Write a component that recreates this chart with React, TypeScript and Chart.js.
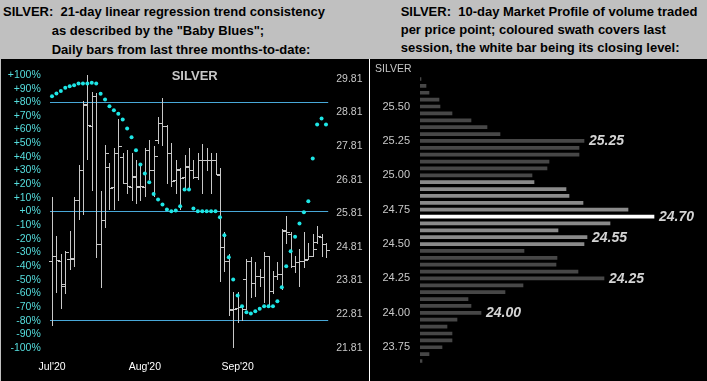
import React, { useEffect, useRef } from "react";
import { Chart, registerables } from "chart.js";
Chart.register(...registerables);

const FONT = '"Liberation Sans", Arial, Helvetica, sans-serif';

// ---------- Left panel data ----------
const monthLabels = ["Jul'20", "Aug'20", "Sep'20"];
const monthIndex = [0, 21, 42];

const opens = [
  24.40, 24.55, 24.40, 23.70, 24.45, 24.45, 26.20, 27.10, 29.05, 28.40,
  29.30, 24.90, 25.60, 27.20, 26.60, 27.60, 27.50, 26.70, 26.60, 26.90,
  26.60, 26.60, 27.70, 27.10, 28.00, 28.50, 28.40, 27.60, 26.80, 27.10,
  26.90, 27.20, 27.10, 26.90, 27.40, 27.40, 27.40, 27.40, 26.95, 24.80,
  24.40, 22.95, 23.00, 23.02, 23.85, 24.40, 23.75, 23.95, 23.90, 24.55,
  23.50, 23.95, 24.00, 25.30, 25.20, 24.25, 24.35, 24.40, 24.45, 24.55,
  24.95, 25.10, 24.90,
];
const highs = [
  26.29, 25.14, 24.60, 24.69, 25.29, 26.29, 27.26, 29.14, 29.93, 29.43,
  29.39, 26.47, 27.85, 27.31, 27.76, 28.62, 27.61, 27.71, 27.61, 27.41,
  27.21, 27.75, 28.00, 27.82, 28.68, 29.24, 28.45, 27.90, 27.41, 27.16,
  27.56, 27.76, 27.41, 27.61, 27.88, 27.76, 27.61, 27.61, 27.16, 25.25,
  24.60, 23.46, 23.46, 23.06, 24.45, 24.50, 24.35, 24.15, 24.65, 24.55,
  24.10, 24.35, 25.34, 25.73, 25.24, 24.54, 24.74, 25.24, 24.94, 25.19,
  25.43, 25.19, 24.94,
];
const lows = [
  22.47, 23.46, 22.99, 23.43, 24.15, 24.25, 25.65, 25.80, 27.44, 26.50,
  24.50, 23.61, 25.39, 25.93, 25.93, 26.22, 26.72, 26.42, 26.22, 26.13,
  26.22, 26.32, 26.82, 26.32, 27.90, 27.85, 26.72, 26.62, 26.42, 25.93,
  26.57, 26.52, 26.87, 26.82, 26.42, 27.11, 26.42, 26.97, 23.80, 24.09,
  22.77, 21.83, 22.57, 22.62, 22.97, 23.31, 23.36, 23.66, 23.16, 23.11,
  23.45, 23.85, 23.56, 24.94, 24.20, 24.05, 23.66, 24.20, 24.45, 24.54,
  24.94, 24.54, 24.50,
];
const closes = [
  24.54, 24.43, 23.64, 24.66, 24.48, 26.20, 27.11, 29.06, 28.43, 29.29,
  24.89, 25.60, 27.61, 26.57, 27.61, 27.80, 26.72, 26.62, 26.92, 26.62,
  26.62, 27.71, 27.11, 27.51, 28.50, 28.40, 27.61, 26.77, 27.13, 26.87,
  27.21, 27.11, 26.90, 27.41, 27.41, 27.41, 27.41, 26.97, 24.82, 24.40,
  22.92, 22.97, 23.02, 22.95, 24.40, 23.75, 23.95, 23.90, 24.55, 23.50,
  23.95, 24.00, 25.29, 25.24, 24.25, 24.35, 24.39, 24.43, 24.54, 24.75,
  25.13, 24.89, 24.72,
];
const babyBlues = [
  84.5, 86.5, 88.2, 90.7, 91.8, 92.5, 93.8, 93.8, 93.8, 94.3,
  93.8, 86.2, 82.1, 77.1, 74.2, 71.6, 67.4, 60.8, 54.4, 44.9,
  34.4, 27.8, 21.5, 12.9, 8.8, 5.1, 1.5, 0.2, 0.7, 3.9,
  16.1, 16.1, 2.2, 0.2, 0.2, 0.2, 0.2, 0.2, -4.2, -17.4,
  -33.5, -49.8, -61.5, -69.4, -73.8, -74.7, -73, -71.3, -69.4, -69.4,
  -69.4, -65.7, -55.5, -40.1, -29.1, -18.5, -8.8, -0.5, 7.5, 38.8,
  63.7, 68.1, 63.7,
];
const priceTicks = [21.81, 22.81, 23.81, 24.81, 25.81, 26.81, 27.81, 28.81, 29.81];
const levelLines = [80, 0, -80];

// ---------- Right panel data ----------
const profilePrices = [
  "25.70", "25.65", "25.60", "25.55", "25.50", "25.45", "25.40", "25.35", "25.30", "25.25",
  "25.20", "25.15", "25.10", "25.05", "25.00", "24.95", "24.90", "24.85", "24.80", "24.75",
  "24.70", "24.65", "24.60", "24.55", "24.50", "24.45", "24.40", "24.35", "24.30", "24.25",
  "24.20", "24.15", "24.10", "24.05", "24.00", "23.95", "23.90", "23.85", "23.80", "23.75",
  "23.70", "23.65",
];
const profileVolume = [
  1, 6, 9, 19, 20, 32, 51, 67, 80, 164,
  159, 159, 129, 127, 112, 114, 146, 149, 163, 208,
  234, 190, 138, 167, 164, 104, 137, 136, 158, 184,
  103, 85, 48, 51, 61, 37, 27, 32, 32, 22,
  9, 2,
];
const profileAxisLabels = ["25.50", "25.25", "25.00", "24.75", "24.50", "24.25", "24.00", "23.75"];
const swathHigh = 24.95;
const swathLow = 24.5;
const closeLevel = "24.70";
const calloutPrices = ["25.25", "24.70", "24.55", "24.25", "24.00"];

const LeftChart: React.FC = () => {
  const ref = useRef<HTMLCanvasElement | null>(null);
  useEffect(() => {
    if (!ref.current) return;
    const ohlcPlugin = {
      id: "ohlc",
      beforeDatasetsDraw(chart: any) {
        const { ctx, scales } = chart;
        const xs = scales.x;
        const ps = scales.price;
        ctx.save();
        ctx.strokeStyle = "#c8c8c8";
        ctx.lineWidth = 1;
        ctx.beginPath();
        for (let i = 0; i < closes.length; i++) {
          const x0 = Math.round(xs.getPixelForValue(i));
          const yh = Math.round(ps.getPixelForValue(highs[i]));
          const yl = Math.round(ps.getPixelForValue(lows[i]));
          const yo = Math.round(ps.getPixelForValue(opens[i])) + 0.5;
          const yc = Math.round(ps.getPixelForValue(closes[i])) + 0.5;
          ctx.moveTo(x0 + 0.5, yh);
          ctx.lineTo(x0 + 0.5, yl + 1);
          ctx.moveTo(x0 - 3, yo);
          ctx.lineTo(x0 + 1, yo);
          ctx.moveTo(x0, yc);
          ctx.lineTo(x0 + 4, yc);
        }
        ctx.stroke();
        ctx.restore();
      },
      afterDraw(chart: any) {
        const { ctx } = chart;
        ctx.save();
        ctx.fillStyle = "#c8c8c8";
        ctx.font = `bold 13px ${FONT}`;
        ctx.textBaseline = "middle";
        ctx.textAlign = "left";
        ctx.fillText("SILVER", 171.7, 17);
        ctx.restore();
      },
    };
    const chart = new Chart(ref.current, {
      type: "line",
      data: {
        labels: closes.map((_, i) => String(i)),
        datasets: [
          {
            data: babyBlues,
            yAxisID: "pct",
            showLine: false,
            pointRadius: 2,
            pointBorderWidth: 0,
            pointBackgroundColor: "#1ee6e6",
            borderColor: "#1ee6e6",
          },
        ],
      },
      options: {
        animation: false,
        responsive: false,
        maintainAspectRatio: false,
        layout: { padding: { top: 16, left: 0, right: 0, bottom: 0 } },
        plugins: { legend: { display: false }, tooltip: { enabled: false } },
        scales: {
          x: {
            type: "category",
            offset: true,
            grid: { display: false },
            border: { display: false },
            ticks: {
              autoSkip: false,
              maxRotation: 0,
              minRotation: 0,
              color: "#ffffff",
              font: { family: FONT, size: 10.5 },
              padding: 5,
              callback: (_v: any, i: number) => {
                const k = monthIndex.indexOf(i);
                return k >= 0 ? monthLabels[k] : "";
              },
            },
            afterFit: (s: any) => {
              s.height = 33;
            },
          },
          pct: {
            type: "linear",
            position: "left",
            min: -100,
            max: 100,
            border: { display: false },
            grid: {
              drawTicks: false,
              lineWidth: 1,
              color: (c: any) => (levelLines.includes(c.tick.value) ? "#48a8d8" : "rgba(0,0,0,0)"),
            },
            ticks: {
              stepSize: 10,
              autoSkip: false,
              color: "#55dddd",
              font: { family: FONT, size: 10.5 },
              padding: 9,
              callback: (v: any) => {
                const n = Number(v);
                return n >= 0 ? `+${n}%` : `${n}%`;
              },
            },
            afterFit: (s: any) => {
              s.width = 49.8;
            },
          },
          price: {
            type: "linear",
            position: "right",
            min: 21.8,
            max: 29.9285,
            border: { display: false },
            grid: { display: false, drawTicks: false },
            afterBuildTicks: (s: any) => {
              s.ticks = priceTicks.map((v) => ({ value: v }));
            },
            ticks: {
              autoSkip: false,
              color: "#c8c8c8",
              font: { family: FONT, size: 10.5 },
              padding: 8,
              callback: (v: any) => Number(v).toFixed(2),
            },
            afterFit: (s: any) => {
              s.width = 40.8;
            },
          },
        },
      } as any,
      plugins: [ohlcPlugin],
    });
    return () => chart.destroy();
  }, []);
  return (
    <canvas
      ref={ref}
      width={369}
      height={322}
      style={{ position: "absolute", left: 0, top: 59, width: 369, height: 322 }}
    />
  );
};

const RightChart: React.FC = () => {
  const ref = useRef<HTMLCanvasElement | null>(null);
  useEffect(() => {
    if (!ref.current) return;
    const calloutPlugin = {
      id: "callouts",
      afterDatasetsDraw(chart: any) {
        const { ctx } = chart;
        const meta = chart.getDatasetMeta(0);
        ctx.save();
        ctx.font = `italic bold 14px ${FONT}`;
        ctx.fillStyle = "#d4d4d4";
        ctx.textBaseline = "middle";
        ctx.textAlign = "left";
        calloutPrices.forEach((p) => {
          const idx = profilePrices.indexOf(p);
          const el = meta.data[idx];
          if (el) ctx.fillText(p, el.x + 5, el.y + 0.5);
        });
        ctx.font = `10.5px ${FONT}`;
        ctx.fillStyle = "#c8c8c8";
        ctx.fillText("SILVER", 5, 10.3);
        ctx.restore();
      },
    };
    const colors = profilePrices.map((p) => {
      const n = parseFloat(p);
      if (p === closeLevel) return "#ffffff";
      if (n <= swathHigh + 1e-9 && n >= swathLow - 1e-9) return "#8a8a8a";
      return "#474747";
    });
    const chart = new Chart(ref.current, {
      type: "bar",
      data: {
        labels: profilePrices,
        datasets: [
          {
            data: profileVolume,
            backgroundColor: colors,
            borderWidth: 0,
            barThickness: 3,
          },
        ],
      },
      options: {
        indexAxis: "y",
        animation: false,
        responsive: false,
        maintainAspectRatio: false,
        layout: { padding: { top: 13.5, bottom: 5.3, left: 0, right: 0 } },
        plugins: { legend: { display: false }, tooltip: { enabled: false } },
        scales: {
          x: { display: false, min: 0, max: 287 },
          y: {
            type: "category",
            offset: true,
            grid: { display: false, drawTicks: false },
            border: { display: false },
            ticks: {
              autoSkip: false,
              color: "#c8c8c8",
              font: { family: FONT, size: 11 },
              padding: 10,
              callback: (_v: any, i: number) =>
                profileAxisLabels.includes(profilePrices[i]) ? profilePrices[i] : "",
            },
            afterFit: (s: any) => {
              s.width = 50;
            },
          },
        },
      } as any,
      plugins: [calloutPlugin],
    });
    return () => chart.destroy();
  }, []);
  return (
    <canvas
      ref={ref}
      width={337}
      height={322}
      style={{ position: "absolute", left: 370, top: 59, width: 337, height: 322 }}
    />
  );
};

const titleStyle: React.CSSProperties = {
  position: "absolute",
  fontFamily: FONT,
  fontWeight: "bold",
  fontSize: 13,
  color: "#000",
  whiteSpace: "pre",
};

export default function App() {
  return (
    <div
      style={{
        position: "absolute",
        left: 0,
        top: 0,
        width: 707,
        height: 381,
        background: "#c0c0c0",
        overflow: "hidden",
        fontFamily: FONT,
      }}
    >
      <div style={{ ...titleStyle, left: 3, top: 1.5, lineHeight: "19px" }}>
        {"SILVER:  21-day linear regression trend consistency"}
      </div>
      <div style={{ ...titleStyle, left: 51.7, top: 20.5, lineHeight: "19px" }}>
        {'as described by the "Baby Blues";'}
      </div>
      <div style={{ ...titleStyle, left: 51.7, top: 39.5, lineHeight: "19px" }}>
        {"Daily bars from last three months-to-date:"}
      </div>
      <div style={{ ...titleStyle, left: 400.7, top: 3.3, lineHeight: "18px" }}>
        {"SILVER:  10-day Market Profile of volume traded"}
      </div>
      <div style={{ ...titleStyle, left: 400.7, top: 21.3, lineHeight: "18px" }}>
        {"per price point; coloured swath covers last"}
      </div>
      <div style={{ ...titleStyle, left: 400.7, top: 39.3, lineHeight: "18px" }}>
        {"session, the white bar being its closing level:"}
      </div>
      <div style={{ position: "absolute", left: 1, top: 59, width: 706, height: 322, background: "#000" }} />
      <div style={{ position: "absolute", left: 369, top: 59, width: 1, height: 322, background: "#ffffff" }} />
      <LeftChart />
      <RightChart />
    </div>
  );
}
